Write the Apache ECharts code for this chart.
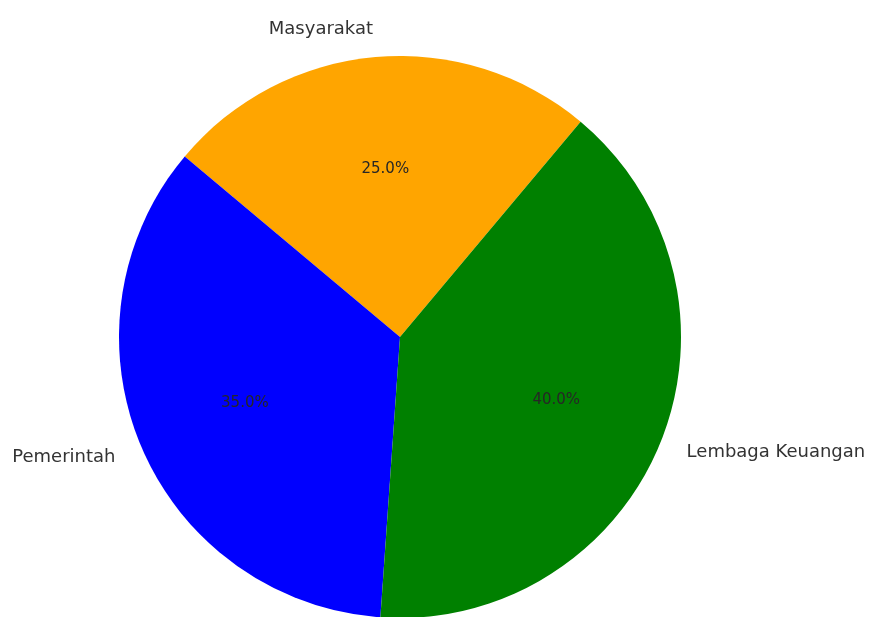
<!DOCTYPE html>
<html>
<head>
<meta charset="utf-8">
<script src="https://cdn.jsdelivr.net/npm/echarts@6/dist/echarts.min.js"></script>
<style>
html, body { margin: 0; padding: 0; background: #ffffff; }
#chart { width: 871px; height: 617px; }
</style>
</head>
<body>
<div id="chart"></div>
<script>
// kategori dan nilai (persen)
var categories = ['Masyarakat', 'Pemerintah', 'Lembaga Keuangan'];
var values = [25, 35, 40];
var sliceColors = ['#ffa500', '#0000ff', '#008000'];

var myChart = echarts.init(document.getElementById('chart'));

var pieData = [];
var pctData = [];
for (var i = 0; i < categories.length; i++) {
	pieData.push({ name: categories[i], value: values[i], itemStyle: { color: sliceColors[i] } });
	pctData.push({ name: categories[i], value: values[i] });
}

var R = 281;

var option = {
	backgroundColor: '#ffffff',
	animation: false,
	series: [{
		// irisan + label nama di luar
		type: 'pie',
		center: [400, 337],
		radius: [0, R],
		startAngle: 50,
		clockwise: false,
		avoidLabelOverlap: false,
		silent: true,
		data: pieData,
		label: {
			show: true,
			position: 'outside',
			formatter: '{b}',
			fontFamily: 'DejaVu Sans',
			fontSize: 18,
			color: '#333333',
			distanceToLabelLine: 0
		},
		labelLine: {
			show: false,
			length: R * 0.1,
			length2: 0
		},
		emphasis: { disabled: true }
	}, {
		// label persen di dalam (radius transparan)
		type: 'pie',
		center: [400, 337],
		radius: [0, 331],
		startAngle: 50,
		clockwise: false,
		avoidLabelOverlap: false,
		silent: true,
		data: pctData,
		itemStyle: { color: 'rgba(0,0,0,0)' },
		label: {
			show: true,
			position: 'inside',
			formatter: function(p) {
				return p.value.toFixed(1) + '%';
			},
			fontFamily: 'DejaVu Sans',
			fontSize: 15,
			color: '#262626'
		},
		labelLine: { show: false },
		emphasis: { disabled: true }
	}]
};

myChart.setOption(option);
window.addEventListener('resize', function() {
	myChart.resize();
});
</script>
</body>
</html>
